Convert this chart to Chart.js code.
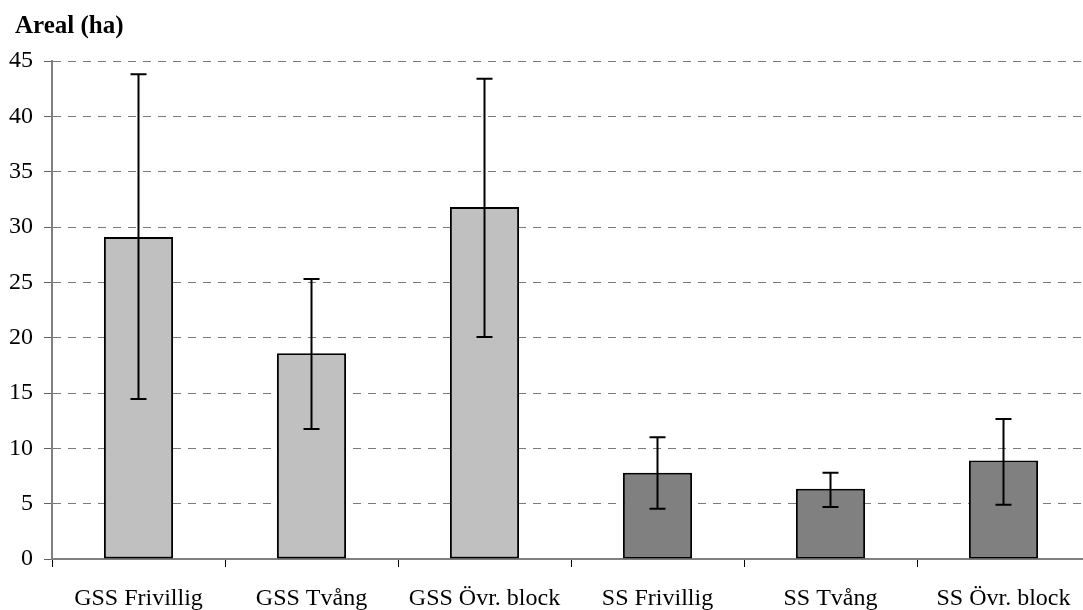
<!DOCTYPE html>
<html>
<head>
<meta charset="utf-8">
<script src="https://cdn.jsdelivr.net/npm/chart.js@4/dist/chart.umd.min.js"></script>
<style>
  html, body { margin: 0; padding: 0; background: #fff; overflow: hidden; }
  #wrap { width: 1090px; height: 610px; }
</style>
</head>
<body>
<div id="wrap"><canvas id="myChart" width="1090" height="610"></canvas></div>
<script>
// values (ha)
const categories = ['GSS Frivillig', 'GSS Tvång', 'GSS Övr. block', 'SS Frivillig', 'SS Tvång', 'SS Övr. block'];
const means = [29.1, 18.6, 31.8, 7.8, 6.35, 8.9];
const errLow = [14.45, 11.75, 20.05, 4.55, 4.7, 4.9];
const errHigh = [43.8, 25.3, 43.4, 11.0, 7.8, 12.65];
const yTicks = { min: 0, max: 45, step: 5 };

const serif = '"Liberation Serif", "Times New Roman", serif';

// draws the whiskers from the low/high arrays using the y scale
const errorBars = {
  id: 'errorBars',
  afterDatasetsDraw(chart) {
    const ctx = chart.ctx;
    const y = chart.scales.y;
    const meta = chart.getDatasetMeta(0);
    ctx.save();
    ctx.strokeStyle = '#000';
    ctx.lineWidth = 2;
    meta.data.forEach((bar, i) => {
      const top = y.getPixelForValue(errHigh[i]);
      const bot = y.getPixelForValue(errLow[i]);
      ctx.beginPath();
      ctx.moveTo(bar.x, top);
      ctx.lineTo(bar.x, bot);
      ctx.moveTo(bar.x - 8, top);
      ctx.lineTo(bar.x + 8, top);
      ctx.moveTo(bar.x - 8, bot);
      ctx.lineTo(bar.x + 8, bot);
      ctx.stroke();
    });
    ctx.restore();
  }
};

// axis caption in the top left corner
const unitTitle = {
  id: 'unitTitle',
  afterDraw(chart) {
    const ctx = chart.ctx;
    ctx.save();
    ctx.font = 'bold 25px ' + serif;
    ctx.fillStyle = '#000';
    ctx.textBaseline = 'alphabetic';
    ctx.fillText('Areal (ha)', 15, 33);
    ctx.restore();
  }
};

const ctx = document.getElementById('myChart').getContext('2d');
const myChart = new Chart(ctx, {
  type: 'bar',
  data: {
    labels: categories,
    datasets: [{
      data: means,
      backgroundColor: c => categories[c.dataIndex].startsWith('GSS') ? '#c0c0c0' : '#808080',
      borderColor: '#000',
      borderWidth: 2,
      borderSkipped: false,
      barPercentage: 0.4,
      categoryPercentage: 1.0
    }]
  },
  options: {
    responsive: false,
    animation: false,
    layout: { padding: { top: 61, right: 0, bottom: 0, left: 0 } },
    plugins: {
      legend: { display: false },
      tooltip: { enabled: false }
    },
    scales: {
      x: {
        grid: { drawOnChartArea: false, color: '#000', tickLength: 8, lineWidth: 1 },
        border: { color: '#808080', width: 2 },
        ticks: { color: '#000', padding: 17, font: { family: serif, size: 24 }, maxRotation: 0 },
        afterFit: s => { s.height = 51; }
      },
      y: {
        min: yTicks.min,
        max: yTicks.max,
        grid: { color: '#7a7a7a', lineWidth: 1, tickLength: 8, tickColor: '#606060' },
        border: { color: '#808080', width: 2, dash: [8, 7] },
        ticks: { stepSize: yTicks.step, color: '#000', padding: 11, font: { family: serif, size: 24 } },
        afterFit: s => { s.width = 52; }
      }
    }
  },
  plugins: [errorBars, unitTitle]
});
</script>
</body>
</html>
